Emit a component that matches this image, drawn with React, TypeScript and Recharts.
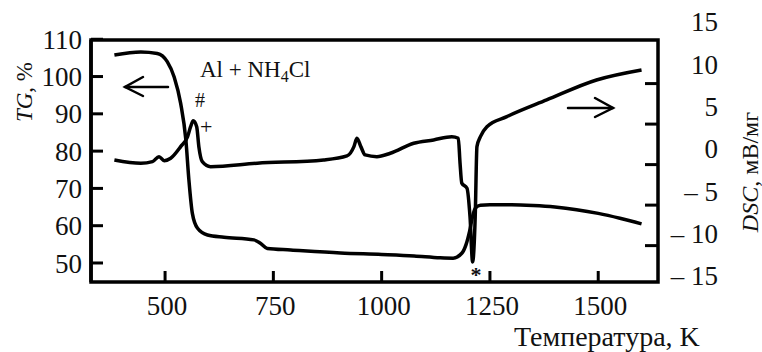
import { LineChart, Line, XAxis, YAxis } from "recharts";

// TG curve (left axis, %)
const tgTemps = [383, 444, 482, 505, 521, 536, 548, 555, 563, 575, 598, 636, 705, 720, 736, 790, 905, 1000, 1075, 1135, 1165, 1185, 1195, 1203, 1210, 1217, 1228, 1250, 1300, 1350, 1400, 1450, 1500, 1550, 1600];
const tgValues = [105.8, 106.6, 106.2, 104.0, 99.9, 92.8, 83.0, 72.3, 63.3, 59.3, 57.5, 56.9, 56.2, 55.3, 53.9, 53.5, 52.7, 52.3, 51.9, 51.4, 51.3, 52.6, 55.0, 58.5, 62.5, 64.8, 65.5, 65.6, 65.6, 65.4, 65.0, 64.3, 63.3, 62.0, 60.5];

// DSC curve (right axis, мВ/мг)
const dscTemps = [383, 444, 471, 486, 498, 513, 536, 552, 559, 565, 573, 578, 586, 605, 713, 866, 920, 936, 943, 952, 962, 989, 1020, 1074, 1120, 1162, 1177, 1181, 1185, 1197, 1204, 1210, 1216, 1220, 1228, 1243, 1289, 1381, 1496, 1600];
const dscValues = [-1.26, -1.65, -1.46, -0.87, -1.35, -1.06, 0.31, 1.49, 2.67, 3.38, 2.67, 0.31, -1.46, -2.05, -1.65, -1.26, -0.79, 0.31, 1.3, 0.31, -0.67, -0.87, -0.47, 0.71, 1.1, 1.49, 1.3, -1.65, -4.0, -4.6, -7.96, -13.3, -7.96, 0.31, 1.49, 2.67, 3.85, 5.82, 8.18, 9.36];

const tempTicks = [500, 750, 1000, 1250, 1500];
const tgTicks = [50, 60, 70, 80, 90, 100, 110];
const dscTicks = [-15, -10, -5, 0, 5, 10, 15];
const dscMarkTicks = [-10, -5, 0, 5, 10];

const tgData = tgTemps.map((t, i) => ({ t, v: tgValues[i] }));
const dscData = dscTemps.map((t, i) => ({ t, v: dscValues[i] }));

const FONT = "'Liberation Serif', 'Times New Roman', serif";
const INK = "#111";

const W = 762;
const H = 352;

function RightTick({ x, y, payload }: any) {
  const v = payload.value;
  return (
    <text x={x + 59} y={y + 9} textAnchor="end" fontFamily={FONT} fontSize={27} fill={INK}>
      {v < 0 ? `– ${Math.abs(v)}` : `${v}`}
    </text>
  );
}

// inner tick marks on the right edge, no labels
function MarkTick({ x, y }: any) {
  return <line x1={x + 1} y1={y} x2={x - 13} y2={y} stroke="#000" strokeWidth={3} />;
}

function BottomTick({ x, y, payload }: any) {
  return (
    <g>
      <line x1={x} y1={y + 1} x2={x} y2={y - 11} stroke="#000" strokeWidth={3} />
      <text x={x + 2} y={y + 33} textAnchor="middle" fontFamily={FONT} fontSize={27} fill={INK}>
        {payload.value}
      </text>
    </g>
  );
}

function Annotations() {
  return (
    <svg width={W} height={H} style={{ position: "absolute", left: 0, top: 0, pointerEvents: "none" }}>
      <g fontFamily={FONT} fill={INK}>
        <text x={200} y={77} fontSize={23}>
          Al + NH<tspan fontSize={16} dy={5}>4</tspan>
          <tspan dy={-5}>Cl</tspan>
        </text>
        <text x={195} y={107} fontSize={20}>#</text>
        <text x={200} y={134} fontSize={22}>+</text>
        <text x={476} y={282} fontSize={22} fontWeight="bold" textAnchor="middle">*</text>
        <text x={514} y={346} fontSize={28}>Температура, K</text>
        <text x={32} y={92} fontSize={23} textAnchor="middle" transform="rotate(-90 32 92)">
          <tspan fontStyle="italic">TG</tspan>, %
        </text>
        <text x={758} y={172} fontSize={24} textAnchor="middle" transform="rotate(-90 758 172)">
          <tspan fontStyle="italic">DSC</tspan>, мВ/мг
        </text>
      </g>
      <g stroke="#000" strokeWidth={2.5} fill="none" strokeLinecap="round">
        <line x1={125} y1={87} x2={168} y2={87} />
        <polyline points="143,77 125,87 143,96" />
        <line x1={568} y1={108} x2={613} y2={108} />
        <polyline points="595,98 613,108 595,117" />
      </g>
    </svg>
  );
}

export default function App() {
  return (
    <div style={{ position: "absolute", left: 0, top: 0 }}>
      <LineChart width={W} height={H} margin={{ top: 40, right: 0, bottom: 0, left: 0 }}>
        <XAxis type="number" dataKey="t" domain={[329, 1638]} allowDataOverflow ticks={tempTicks} interval={0} height={70}
          axisLine={false} tickLine={false} tickSize={0} tickMargin={0} tick={<BottomTick />} />
        <YAxis yAxisId="tg" orientation="left" type="number" domain={[44.9, 109.8]} allowDataOverflow ticks={tgTicks} interval={0} width={91}
          axisLine={{ stroke: "#000", strokeWidth: 3.5 }} tickLine={{ stroke: "#000", strokeWidth: 3 }} tickSize={-12} tickMargin={21}
          tick={{ fontFamily: FONT, fontSize: 27, fill: INK }} />
        <YAxis yAxisId="dsc" orientation="right" type="number" domain={[-15.67, 12.9]} allowDataOverflow ticks={dscTicks} interval={0} width={103}
          axisLine={false} tickLine={false} tickSize={0} tickMargin={0} tick={<RightTick />} />
        <YAxis yAxisId="aMarks" orientation="right" type="number" domain={[-14.49, 15.38]} allowDataOverflow ticks={dscMarkTicks} interval={0} width={1}
          axisLine={false} tickLine={false} tickSize={0} tickMargin={0} tick={<MarkTick />} />
        <Line yAxisId="tg" data={tgData} dataKey="v" type="monotone" stroke="#000" strokeWidth={3.5} dot={false} activeDot={false} isAnimationActive={false} />
        <Line yAxisId="dsc" data={dscData} dataKey="v" type="monotone" stroke="#000" strokeWidth={3.5} dot={false} activeDot={false} isAnimationActive={false} />
        <rect x={91} y={40} width={567} height={242} fill="none" stroke="#000" strokeWidth={3.5} />
      </LineChart>
      <Annotations />
    </div>
  );
}
